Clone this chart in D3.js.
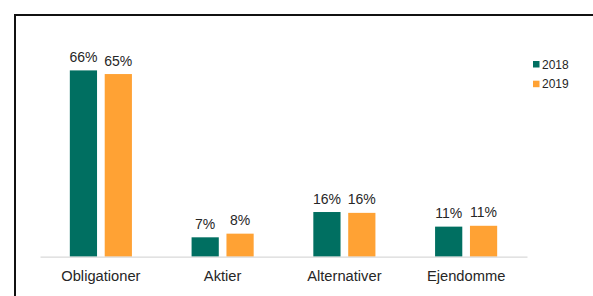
<!DOCTYPE html>
<html lang="da">
<head>
    <meta charset="UTF-8">
    <title>Fordeling</title>
    <script src="https://cdn.jsdelivr.net/npm/d3@7"></script>
    <style>
        body { margin: 0; background: #fff; }
        text { font-family: "Liberation Sans", Arial, sans-serif; fill: #262626; }
    </style>
</head>
<body>
<svg id="chart"></svg>
<script>
    var categories = ["Obligationer", "Aktier", "Alternativer", "Ejendomme"];
    var years = ["2018", "2019"];
    var values2018 = [66.3, 6.9, 15.9, 10.7];
    var values2019 = [65.0, 8.2, 15.6, 11.0];
    var colors = ["#006f61", "#ffa234"];

    var W = 593, H = 296;
    var svg = d3.select("#chart").attr("width", W).attr("height", H);

    // ramme
    svg.append("path")
        .attr("d", "M15," + (H + 5) + "V15H" + (W + 5))
        .attr("fill", "none")
        .attr("stroke", "#111")
        .attr("stroke-width", 2);

    var baseY = 256.7;
    var x0 = d3.scaleBand().domain(categories).range([40, 527]).paddingInner(0.49).paddingOuter(0.245);
    var x1 = d3.scaleBand().domain(years).range([0, x0.bandwidth()]).paddingInner(0.22);
    var y = d3.scaleLinear().domain([0, 70]).range([baseY, baseY - 70 * 2.81]);

    var data = categories.map(function (c, i) {
        return {cat: c, vals: [values2018[i], values2019[i]]};
    });

    var g = svg.selectAll("g.grp").data(data).enter().append("g")
        .attr("class", "grp")
        .attr("transform", function (d) { return "translate(" + x0(d.cat) + ",0)"; });

    var bars = g.selectAll("g.bar").data(function (d) {
        return d.vals.map(function (v, j) { return {year: years[j], v: v, j: j}; });
    }).enter().append("g");

    bars.append("rect")
        .attr("x", function (d) { return x1(d.year); })
        .attr("width", x1.bandwidth())
        .attr("y", function (d) { return y(d.v); })
        .attr("height", function (d) { return baseY - y(d.v); })
        .attr("fill", function (d) { return colors[d.j]; });

    bars.append("text")
        .attr("x", function (d) { return x1(d.year) + x1.bandwidth() / 2; })
        .attr("y", function (d) { return y(d.v) - 8.5; })
        .attr("text-anchor", "middle")
        .style("font-size", "14px")
        .text(function (d) { return Math.round(d.v) + "%"; });

    // akse
    var axis = svg.append("g").attr("transform", "translate(0," + baseY + ")")
        .call(d3.axisBottom(x0).tickSize(0).tickPadding(14));
    axis.select(".domain").attr("stroke", "#d9d9d9").attr("stroke-width", 1.2);
    axis.selectAll("text").style("font-size", "14.7px").style("font-family", "Liberation Sans, Arial, sans-serif").attr("fill", "#262626");

    // legend
    var leg = svg.append("g").selectAll("g").data(years).enter().append("g")
        .attr("transform", function (d, i) { return "translate(533," + (61 + i * 19.7) + ")"; });
    leg.append("rect").attr("width", 6.5).attr("height", 6.5)
        .attr("fill", function (d, i) { return colors[i]; });
    leg.append("text").attr("x", 9).attr("y", 7.5)
        .style("font-size", "12px")
        .text(function (d) { return d; });
</script>
</body>
</html>
